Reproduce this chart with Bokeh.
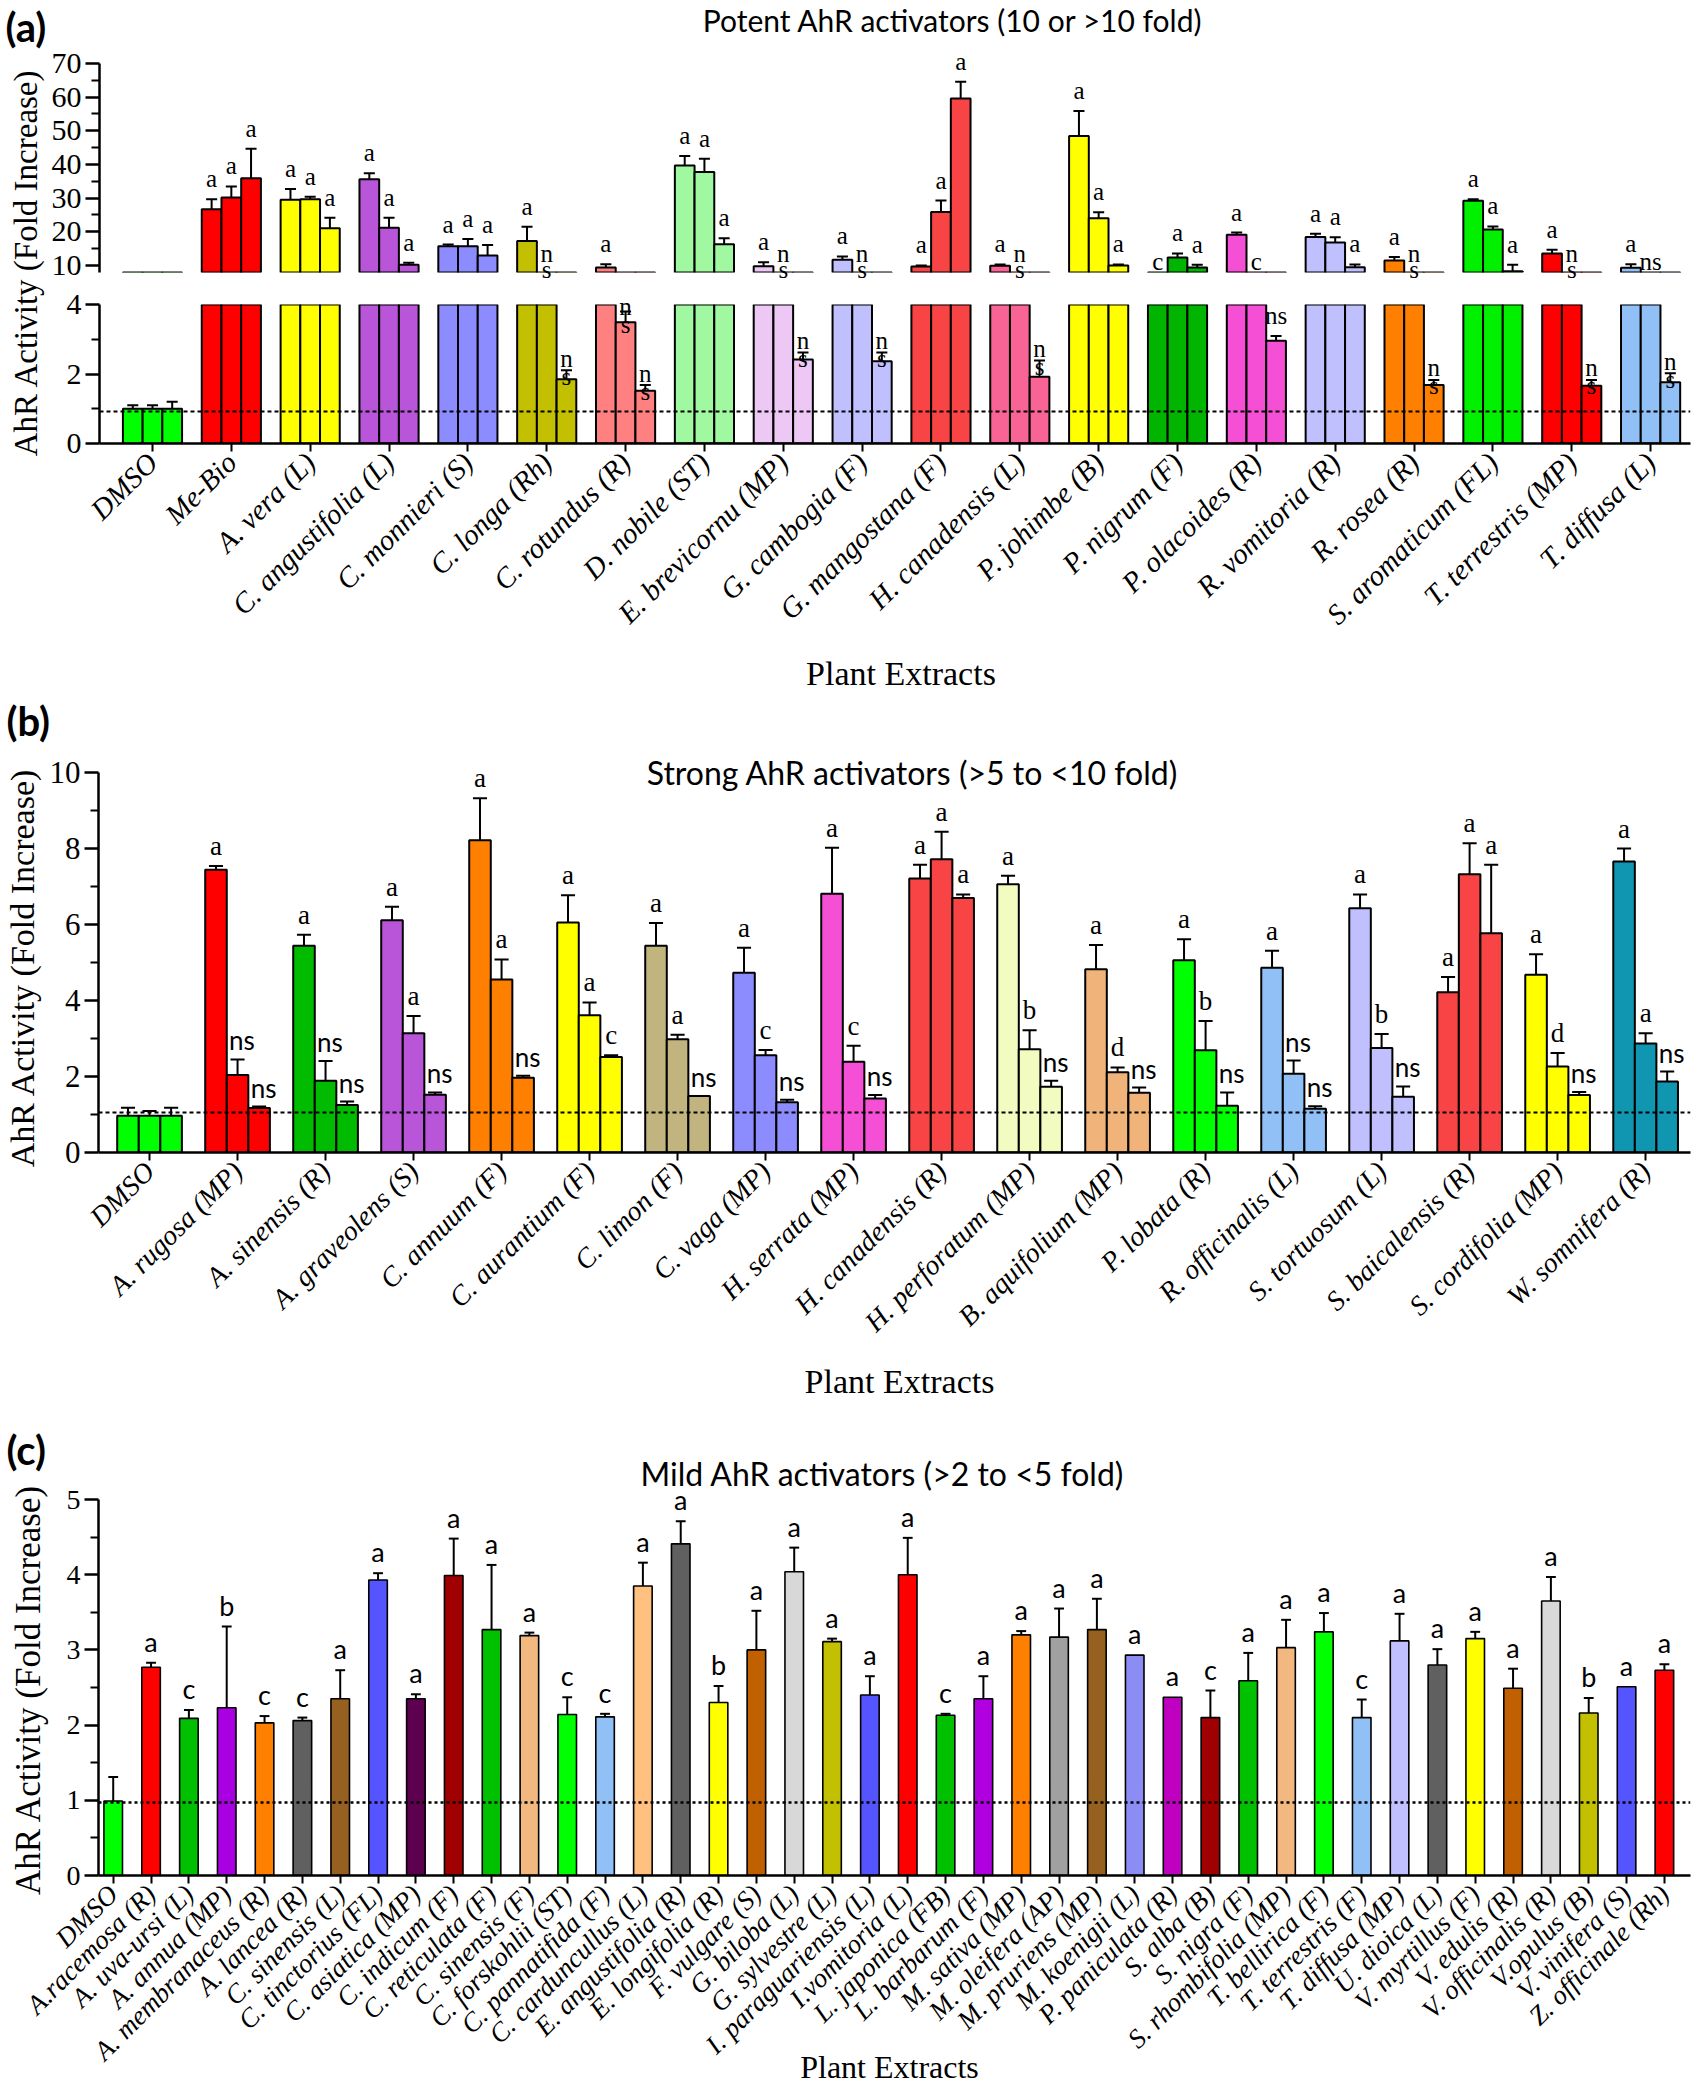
import math
from bokeh.plotting import figure
from bokeh.models import Range1d, FixedTicker, Span, ColumnDataSource
from bokeh.layouts import column, row
from bokeh.embed import file_html
from bokeh.resources import INLINE
from bokeh.core.properties import value, field

SERIF = "Liberation Serif"
SANS = "Lato"

# ------------------------- Panel (a) data -------------------------
cats_a = ["DMSO", "Me-Bio", "A. vera (L)", "C. angustifolia (L)", "C. monnieri (S)",
          "C. longa (Rh)", "C. rotundus (R)", "D. nobile (ST)", "E. brevicornu (MP)",
          "G. cambogia (F)", "G. mangostana (F)", "H. canadensis (L)", "P. johimbe (B)",
          "P. nigrum (F)", "P. olacoides (R)", "R. vomitoria (R)", "R. rosea (R)",
          "S. aromaticum (FL)", "T. terrestris (MP)", "T. diffusa (L)"]
colors_a = ["#00FF00", "#FF0000", "#FFFF00", "#B955D9", "#8C8CFF", "#C2C000", "#FF8080",
            "#A0F8A0", "#EDC8F5", "#C0C0FF", "#F84444", "#F86496", "#FFFF00", "#00B400",
            "#F550D5", "#C0C0FF", "#FF8000", "#00F000", "#FF0000", "#90C0F5"]
vals_a1 = [1.0, 26.7, 29.5, 35.6, 15.7, 17.3, 9.4, 39.7, 9.8, 11.7, 9.7, 9.9, 48.5, 6.0, 19.1, 18.5, 11.5, 29.2, 13.6, 9.3]
err_a1 = [0.1, 3.0, 3.2, 1.8, 0.5, 4.2, 1.0, 2.8, 1.2, 1.0, 0.3, 0.4, 7.4, 0.0, 0.7, 0.9, 1.0, 0.5, 1.1, 1.1]
vals_a2 = [1.0, 30.2, 29.7, 21.2, 15.7, 6.0, 3.49, 37.8, 6.0, 6.0, 25.9, 6.0, 24.0, 12.4, 6.0, 16.8, 6.0, 20.7, 6.0, 6.0]
err_a2 = [0.1, 3.3, 0.7, 3.0, 2.2, 0.0, 0.31, 3.9, 0.0, 0.0, 3.4, 0.0, 1.8, 1.2, 0.0, 1.6, 0.0, 0.9, 0.0, 0.0]
vals_a3 = [1.0, 35.9, 21.1, 10.2, 13.0, 1.85, 1.52, 16.3, 2.42, 2.37, 59.6, 1.92, 10.0, 9.4, 2.96, 9.5, 1.68, 8.3, 1.66, 1.76]
err_a3 = [0.2, 8.8, 3.1, 0.6, 3.1, 0.26, 0.16, 1.8, 0.2, 0.25, 5.0, 0.47, 0.3, 0.8, 0.13, 0.8, 0.15, 1.9, 0.17, 0.26]
lab_a1 = ["", "a", "a", "a", "a", "a", "a", "a", "a", "a", "a", "a", "a", "c", "a", "a", "a", "a", "a", "a"]
lab_a2 = ["", "a", "a", "a", "a", "n\ns", "n\ns", "a", "n\ns", "n\ns", "a", "n\ns", "a", "a", "c", "a", "n\ns", "a", "n\ns", "ns"]
lab_a3 = ["", "a", "a", "a", "a", "n\ns", "n\ns", "a", "n\ns", "n\ns", "a", "n\ns", "a", "a", "ns", "a", "n\ns", "a", "n\ns", "n\ns"]
dmso_line_a = 0.92

# ------------------------- Panel (b) data -------------------------
cats_b = ["DMSO", "A. rugosa (MP)", "A. sinensis (R)", "A. graveolens (S)", "C. annuum (F)",
          "C. aurantium (F)", "C. limon (F)", "C. vaga (MP)", "H. serrata (MP)",
          "H. canadensis (R)", "H. perforatum (MP)", "B. aquifolium (MP)", "P. lobata (R)",
          "R. officinalis (L)", "S. tortuosum (L)", "S. baicalensis (R)", "S. cordifolia (MP)",
          "W. somnifera (R)"]
colors_b = ["#00FF00", "#FF0000", "#00BB00", "#B955D9", "#FF8000", "#FFFF00", "#C2B47E",
            "#8C8CFF", "#F550D5", "#F84444", "#F2FCC0", "#F0B47A", "#00FF00", "#90C0F5",
            "#C0C0FF", "#F84444", "#FFFF00", "#1096B0"]
vals_b1 = [0.97, 7.44, 5.44, 6.11, 8.22, 6.05, 5.44, 4.73, 6.81, 7.21, 7.06, 4.82, 5.06, 4.86, 6.43, 4.22, 4.68, 7.66]
err_b1 = [0.21, 0.10, 0.29, 0.36, 1.10, 0.72, 0.60, 0.66, 1.21, 0.36, 0.22, 0.64, 0.55, 0.45, 0.36, 0.40, 0.54, 0.34]
vals_b2 = [0.97, 2.04, 1.89, 3.14, 4.55, 3.61, 2.98, 2.56, 2.39, 7.72, 2.72, 2.11, 2.69, 2.07, 2.75, 7.32, 2.26, 2.87]
err_b2 = [0.12, 0.41, 0.52, 0.45, 0.53, 0.34, 0.12, 0.14, 0.42, 0.72, 0.50, 0.13, 0.77, 0.35, 0.37, 0.82, 0.36, 0.27]
vals_b3 = [0.97, 1.17, 1.25, 1.52, 1.97, 2.51, 1.49, 1.32, 1.42, 6.70, 1.73, 1.57, 1.23, 1.15, 1.47, 5.77, 1.51, 1.87]
err_b3 = [0.21, 0.04, 0.09, 0.06, 0.05, 0.05, 0.0, 0.07, 0.09, 0.09, 0.16, 0.14, 0.35, 0.07, 0.27, 1.80, 0.08, 0.26]
lab_b1 = ["", "a", "a", "a", "a", "a", "a", "a", "a", "a", "a", "a", "a", "a", "a", "a", "a", "a"]
lab_b2 = ["", "ns", "ns", "a", "a", "a", "a", "c", "c", "a", "b", "d", "b", "ns", "b", "a", "d", "a"]
lab_b3 = ["", "ns", "ns", "ns", "ns", "c", "ns", "ns", "ns", "a", "ns", "ns", "ns", "ns", "ns", "a", "ns", "ns"]
dmso_line_b = 1.05

# ------------------------- Panel (c) data -------------------------
cats_c = ["DMSO", "A.racemosa (R)", "A. uva-ursi (L)", "A. annua (MP)", "A. membranaceus (R)",
          "A. lancea (R)", "C. sinensis (L)", "C. tinctorius (FL)", "C. asiatica (MP)", "C. indicum (F)",
          "C. reticulata (F)", "C. sinensis (F)", "C. forskohlii (ST)", "C. pannatifida (F)",
          "C. carduncullus (L)", "E. angustifolia (R)", "E. longifolia (R)", "F. vulgare (S)",
          "G. biloba (L)", "G. sylvestre (L)", "I. paraguariensis (L)", "I.vomitoria (L)",
          "L. japonica (FB)", "L. barbarum (F)", "M. sativa (MP)", "M. oleifera (AP)",
          "M. pruriens (MP)", "M. koenigii (L)", "P. paniculata (R)", "S. alba (B)", "S. nigra (F)",
          "S. rhombifolia (MP)", "T. bellirica (F)", "T. terrestris (F)", "T. diffusa (MP)",
          "U. dioica (L)", "V. myrtillus (F)", "V. edulis (R)", "V. officinalis (R)", "V.opulus (B)",
          "V. vinifera (S)", "Z. officinale (Rh)"]
colors_c = ["#00FF00", "#FF0000", "#00C000", "#A800E0", "#FF8000", "#606060", "#956020", "#5555FF",
            "#5E0050", "#A00000", "#00C000", "#F2B880", "#00FF00", "#90C0F5", "#FFC080", "#606060",
            "#FFFF00", "#C06000", "#D8D8D8", "#C2C000", "#5555FF", "#FF0000", "#00C000", "#B000E0",
            "#FF8000", "#A0A0A0", "#956020", "#8C8CF5", "#C000C0", "#A00000", "#00C000", "#F2B880",
            "#00FF00", "#90C0F5", "#C0C0FF", "#606060", "#FFFF00", "#C06000", "#D8D8D8", "#C2C000",
            "#5555FF", "#FF0000"]
vals_c = [0.99, 2.77, 2.09, 2.23, 2.03, 2.06, 2.35, 3.93, 2.35, 3.99,
          3.27, 3.19, 2.14, 2.11, 3.85, 4.41, 2.30, 3.00, 4.04, 3.11,
          2.40, 4.00, 2.13, 2.35, 3.20, 3.17, 3.27, 2.93, 2.37, 2.10,
          2.59, 3.03, 3.24, 2.10, 3.12, 2.80, 3.15, 2.49, 3.65, 2.16,
          2.51, 2.73]
err_c = [0.32, 0.06, 0.11, 1.08, 0.09, 0.04, 0.38, 0.09, 0.06, 0.49,
         0.86, 0.04, 0.23, 0.04, 0.31, 0.30, 0.22, 0.52, 0.32, 0.04,
         0.25, 0.49, 0.02, 0.30, 0.05, 0.38, 0.41, 0.0, 0.0, 0.36,
         0.37, 0.37, 0.25, 0.24, 0.36, 0.21, 0.09, 0.26, 0.32, 0.20,
         0.0, 0.08]
lab_c = ["", "a", "c", "b", "c", "c", "a", "a", "a", "a",
         "a", "a", "c", "c", "a", "a", "b", "a", "a", "a",
         "a", "a", "c", "a", "a", "a", "a", "a", "a", "c",
         "a", "a", "a", "c", "a", "a", "a", "a", "a", "b",
         "a", "a"]
dmso_line_c = 0.97

# ------------------------- geometry (page pixels) -------------------------
# all three frames share the same left (106) and right (1698) page edges
GA_UP = dict(l=106, r=1698, t=71, b=280, x=(-0.672, 19.506), y=(7.92, 70))
GA_LO = dict(l=106, r=1698, t=312, b=451, x=(-0.672, 19.506), y=(0, 4))
GB = dict(l=106, r=1698, t=780, b=1160, x=(-0.58, 17.51), y=(0, 10))
GC = dict(l=106, r=1698, t=1507, b=1883, x=(-0.389, 41.69), y=(0, 5))
A_LO_CANVAS_TOP = 290  # page y where the lower (a) figure starts


def to_data(g, px, py):
    x0, x1 = g["x"]
    y0, y1 = g["y"]
    return (x0 + (px - g["l"]) / (g["r"] - g["l"]) * (x1 - x0),
            y0 + (g["b"] - py) / (g["b"] - g["t"]) * (y1 - y0))


def to_page_y(g, y):
    y0, y1 = g["y"]
    return g["b"] - (y - y0) / (y1 - y0) * (g["b"] - g["t"])


def add_text(p, g, px, py, text, size, font=SERIF, style="normal", align="center", angle=0.0):
    x, y = to_data(g, px, py)
    p.text(x=[x], y=[y], text=[text], text_font=value(font), text_font_size=f"{size}px",
           text_font_style=style, text_align=align, text_baseline="middle",
           angle=angle, text_color="black", level="overlay")


def base_fig(w, h, g, bl, br, bt, bb):
    p = figure(width=w, height=h, x_range=Range1d(*g["x"]), y_range=Range1d(*g["y"]),
               output_backend="svg", toolbar_location=None, tools="")
    p.min_border_left, p.min_border_right = bl, br
    p.min_border_top, p.min_border_bottom = bt, bb
    p.outline_line_color = None
    p.grid.visible = False
    p.background_fill_color = "white"
    p.border_fill_color = "white"
    return p


def style_y(p, ticks, minor, size):
    ax = p.yaxis[0]
    ax.ticker = FixedTicker(ticks=ticks, minor_ticks=minor)
    ax.major_label_text_font = SERIF
    ax.major_label_text_font_style = "normal"
    ax.major_label_text_font_size = f"{size}px"
    ax.major_label_text_color = "black"
    ax.axis_line_width = 2.5
    ax.axis_line_color = "black"
    ax.major_tick_line_width = 2.5
    ax.minor_tick_line_width = 2
    ax.major_tick_in = 0
    ax.major_tick_out = 14
    ax.minor_tick_in = 0
    ax.minor_tick_out = 8
    ax.major_label_standoff = 4


def style_x(p, cats, size):
    ax = p.xaxis[0]
    ax.ticker = FixedTicker(ticks=list(range(len(cats))), minor_ticks=[])
    ax.major_label_overrides = {i: c for i, c in enumerate(cats)}
    ax.major_label_orientation = math.pi / 4
    ax.major_label_text_font = SERIF
    ax.major_label_text_font_style = "italic"
    ax.major_label_text_font_size = f"{size}px"
    ax.major_label_text_color = "black"
    ax.axis_line_width = 2.5
    ax.axis_line_color = "black"
    ax.major_tick_line_width = 2
    ax.major_tick_in = 0
    ax.major_tick_out = 8
    ax.minor_tick_out = 0
    ax.major_label_standoff = 6


def draw_bars(p, series, colors, offs, width, lw):
    n = len(colors)
    for off, vals in zip(offs, series):
        src = ColumnDataSource(dict(x=[i + off for i in range(n)], top=vals, color=colors))
        p.vbar(x="x", top="top", bottom=0, width=width, source=src,
               fill_color="color", line_color="black", line_width=lw)


def draw_err(p, series, errs, offs, cap, lw=2):
    xs, y0, y1 = [], [], []
    for off, vals, es in zip(offs, series, errs):
        for i, (v, e) in enumerate(zip(vals, es)):
            if e > 0:
                xs.append(i + off)
                y0.append(v)
                y1.append(v + e)
    src = ColumnDataSource(dict(x=xs, y0=y0, y1=y1,
                                xl=[x - cap for x in xs], xr=[x + cap for x in xs]))
    p.segment(x0="x", y0="y0", x1="x", y1="y1", source=src, line_color="black", line_width=lw)
    p.segment(x0="xl", y0="y1", x1="xr", y1="y1", source=src, line_color="black", line_width=lw)


# ============================ Panel (a) ============================
offs3a = [-0.25, 0.0, 0.25]
ser_a = [vals_a1, vals_a2, vals_a3]
errs_a = [err_a1, err_a2, err_a3]
labs_a = [lab_a1, lab_a2, lab_a3]

LAB_W = 48
lab_fig = figure(width=LAB_W, height=692, x_range=Range1d(0, LAB_W), y_range=Range1d(0, 692),
                 x_axis_type=None, y_axis_type=None, output_backend="svg",
                 toolbar_location=None, tools="")
lab_fig.min_border = 0
lab_fig.outline_line_color = None
lab_fig.text(x=[5], y=[666], text=["(a)"], text_font=value(SANS), text_font_style="bold",
             text_font_size="40px", text_align="left", text_baseline="middle", text_color="black")
lab_fig.text(x=[25], y=[430], text=["AhR Activity (Fold Increase)"], text_font=value(SERIF),
             text_font_size="33px", text_align="center", text_baseline="middle",
             angle=math.pi / 2, text_color="black")

WA = 1692 - LAB_W
fA1 = base_fig(WA, 282, GA_UP, 50, 2, 63, 10)
fA1.xaxis.visible = False
style_y(fA1, [10, 20, 30, 40, 50, 60, 70], [15, 25, 35, 45, 55, 65], 30)
fA2 = base_fig(WA, 410, GA_LO, 50, 2, 22, 249)
style_y(fA2, [0, 2, 4], [1, 3], 30)
style_x(fA2, cats_a, 29)

for p in (fA1, fA2):
    draw_bars(p, ser_a, colors_a, offs3a, 0.25, 2)
    draw_err(p, ser_a, errs_a, offs3a, 0.07)
fA2.add_layout(Span(location=dmso_line_a, dimension="width", line_color="black",
                    line_dash="4 3", line_width=2))

# single-line letters (baseline bottom) and stacked "n"/"s" pieces (alphabetic baseline)
up1 = dict(x=[], y=[], t=[], off=[])
lo1 = dict(x=[], y=[], t=[], off=[])
up2 = dict(x=[], y=[], t=[], off=[])
lo2 = dict(x=[], y=[], t=[], off=[])
lo_top = GA_LO["y"][1]
up_bot = GA_UP["y"][0]
LINE = 18      # pixel gap between the stacked "n" and "s"
ASC = 24       # room kept above a stacked "n" inside the lower canvas
for j in range(3):
    for i, (v, e, l) in enumerate(zip(ser_a[j], errs_a[j], labs_a[j])):
        if not l:
            continue
        x = i + offs3a[j]
        stacked = "\n" in l
        if v + e <= lo_top:
            y = v + e
            if stacked:
                cap_px = to_page_y(GA_LO, y)
                s_off = max(6, A_LO_CANVAS_TOP + ASC + LINE - cap_px)
                parts = l.split("\n")
                lo2["x"] += [x, x]
                lo2["y"] += [y, y]
                lo2["t"] += parts
                lo2["off"] += [s_off - LINE, s_off]
            else:
                lo1["x"].append(x); lo1["y"].append(y); lo1["t"].append(l); lo1["off"].append(-7)
        elif v >= up_bot:
            up1["x"].append(x); up1["y"].append(v + e); up1["t"].append(l); up1["off"].append(-7)
        else:
            if stacked:
                parts = l.split("\n")
                up2["x"] += [x, x]
                up2["y"] += [up_bot, up_bot]
                up2["t"] += parts
                up2["off"] += [-3 - 16, -3]
            else:
                up1["x"].append(x); up1["y"].append(up_bot); up1["t"].append(l); up1["off"].append(2)
for p, d in ((fA1, up1), (fA2, lo1)):
    p.text(x="x", y="y", text="t", y_offset="off", source=ColumnDataSource(d),
           text_font=value(SERIF), text_font_size="25px", text_align="center",
           text_baseline="bottom", text_color="black", level="overlay")
for p, d in ((fA1, up2), (fA2, lo2)):
    p.text(x="x", y="y", text="t", y_offset="off", source=ColumnDataSource(d),
           text_font=value(SERIF), text_font_size="25px", text_align="center",
           text_baseline="alphabetic", text_color="black", level="overlay")

add_text(fA1, GA_UP, 960, 27, "Potent AhR activators (10 or >10 fold)", 30, font=SANS)
add_text(fA2, GA_LO, 908, 681, "Plant Extracts", 34)

panel_a = row(lab_fig, column(fA1, fA2))

# ============================ Panel (b) ============================
offs3b = [-0.245, 0.0, 0.245]
ser_b = [vals_b1, vals_b2, vals_b3]
errs_b = [err_b1, err_b2, err_b3]
labs_b = [lab_b1, lab_b2, lab_b3]

fB = base_fig(1692, 730, GB, 98, 2, 80, 270)
style_y(fB, [0, 2, 4, 6, 8, 10], [1, 3, 5, 7, 9], 31)
style_x(fB, cats_b, 28)
draw_bars(fB, ser_b, colors_b, offs3b, 0.245, 2)
draw_err(fB, ser_b, errs_b, offs3b, 0.08)
fB.add_layout(Span(location=dmso_line_b, dimension="width", line_color="black",
                   line_dash="4 3", line_width=2))
tb = dict(x=[], y=[], t=[], font=[], size=[], off=[])
for j in range(3):
    for i, (v, e, l) in enumerate(zip(ser_b[j], errs_b[j], labs_b[j])):
        if not l:
            continue
        is_ns = (l == "ns")
        tb["x"].append(i + offs3b[j] + (0.05 if is_ns else 0.0))
        tb["y"].append(v + e)
        tb["t"].append(l)
        tb["font"].append(SANS if is_ns else SERIF)
        tb["size"].append("26px" if is_ns else "27px")
        tb["off"].append(-3 if is_ns else -5)
fB.text(x="x", y="y", text="t", y_offset="off", source=ColumnDataSource(tb),
        text_font=field("font"), text_font_size=field("size"), text_align="center",
        text_baseline="bottom", text_color="black", level="overlay")
add_text(fB, GB, 14, 728, "(b)", 40, font=SANS, style="bold", align="left")
add_text(fB, GB, 920, 780, "Strong AhR activators (>5 to <10 fold)", 32, font=SANS)
add_text(fB, GB, 30, 975, "AhR Activity (Fold Increase)", 34, angle=math.pi / 2)
add_text(fB, GB, 907, 1389, "Plant Extracts", 34)

# ============================ Panel (c) ============================
fC = base_fig(1692, 662, GC, 98, 2, 77, 209)
style_y(fC, [0, 1, 2, 3, 4, 5], [0.5, 1.5, 2.5, 3.5, 4.5], 28)
style_x(fC, cats_c, 27)
draw_bars(fC, [vals_c], colors_c, [0.0], 0.49, 1.6)
draw_err(fC, [vals_c], [err_c], [0.0], 0.13)
fC.add_layout(Span(location=dmso_line_c, dimension="width", line_color="black",
                   line_dash="3 3", line_width=2.5))
tc = dict(x=[], y=[], t=[])
for i, (v, e, l) in enumerate(zip(vals_c, err_c, lab_c)):
    if l:
        tc["x"].append(i)
        tc["y"].append(v + e)
        tc["t"].append(l)
fC.text(x="x", y="y", text="t", y_offset=-5, source=ColumnDataSource(tc),
        text_font=value(SANS), text_font_size="27px", text_align="center",
        text_baseline="bottom", text_color="black", level="overlay")
add_text(fC, GC, 14, 1457, "(c)", 40, font=SANS, style="bold", align="left")
add_text(fC, GC, 890, 1481, "Mild AhR activators (>2 to <5 fold)", 32, font=SANS)
add_text(fC, GC, 36, 1697, "AhR Activity (Fold Increase)", 35, angle=math.pi / 2)
add_text(fC, GC, 897, 2074, "Plant Extracts", 32)

layout = column(panel_a, fB, fC)
open("out.html", "w").write(file_html(layout, INLINE))
